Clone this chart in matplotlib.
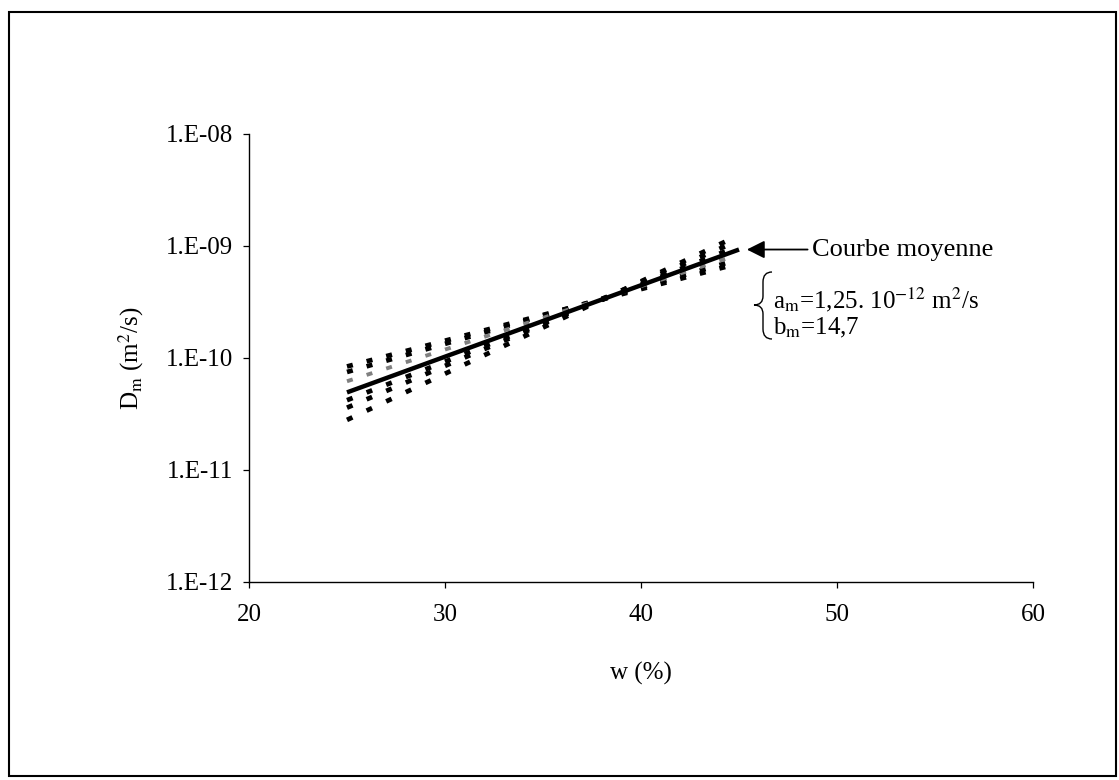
import matplotlib
matplotlib.use("Agg")
import matplotlib.pyplot as plt
import numpy as np
from matplotlib.path import Path
from matplotlib.patches import PathPatch, Rectangle
from matplotlib.transforms import IdentityTransform

plt.rcParams['font.family'] = ['Liberation Serif', 'DejaVu Serif']
plt.rcParams['mathtext.fontset'] = 'stix'
plt.rcParams['lines.scale_dashes'] = False

# data
w_ends = [25, 45]
# individual curves (value at w=25, value at w=45)
curves = [
    [8.4e-11, 7.0e-10],
    [7.5e-11, 7.6e-10],
    [6.2e-11, 8.4e-10],
    [4.2e-11, 1.00e-9],
    [3.6e-11, 1.12e-9],
    [2.8e-11, 1.25e-9],
]
curve_colors = ['black', 'black', '#808080', 'black', 'black', 'black']
mean_curve = [4.93e-11, 9.3e-10]

xticks = [20, 30, 40, 50, 60]
yticks = [1e-12, 1e-11, 1e-10, 1e-9, 1e-8]
ytick_labels = ['1.E-12', '1.E-11', '1.E-10', '1.E-09', '1.E-08']

W, H = 1119, 780
fs = 18
fig = plt.figure(figsize=(W / 100, H / 100), dpi=100)
ax = fig.add_axes([249 / W, 1 - 582 / H, (1033 - 249) / W, (582 - 134) / H])

ax.set_yscale('log')
ax.set_xlim(20, 60)
ax.set_ylim(1e-12, 1e-8)
ax.set_xticks(xticks)
ax.set_xticklabels([str(t) for t in xticks])
ax.set_yticks(yticks)
ax.set_yticklabels(ytick_labels)
ax.minorticks_off()
ax.tick_params(direction='out', length=4.5, width=0.9, labelsize=fs)
ax.tick_params(axis='y', pad=7)
ax.tick_params(axis='x', pad=11)
for s in ['top', 'right']:
    ax.spines[s].set_visible(False)
for s in ['left', 'bottom']:
    ax.spines[s].set_linewidth(1.0)

ax.set_xlabel('w (%)', fontsize=fs, labelpad=26)
ax.set_ylabel(r'D$_\mathrm{m}$ (m$^2$/s)', fontsize=fs, labelpad=14)

# dash period = one unit of w along each curve
fig.canvas.draw()
for vals, col in zip(curves, curve_colors):
    p = ax.transData.transform(np.column_stack([w_ends, vals]))
    length = np.hypot(*(p[1] - p[0]))
    period = length / (w_ends[1] - w_ends[0]) * 72 / fig.dpi
    on = 6 * 72 / fig.dpi
    lw = 3.4 if col == 'black' else 2.8
    ax.plot(w_ends, vals, color=col, lw=lw, solid_capstyle='butt',
            dash_capstyle='butt', linestyle=(0, (on, period - on)))

ax.plot(w_ends, mean_curve, color='black', lw=3.2, solid_capstyle='butt')

ax.annotate('', xy=(45.4, mean_curve[1]), xytext=(48.5, mean_curve[1]),
            arrowprops=dict(arrowstyle='-|>', color='black', lw=1.3,
                            mutation_scale=27, shrinkA=0, shrinkB=0))
ax.text(48.7, mean_curve[1], 'Courbe moyenne', fontsize=19, va='center', ha='left')
ax.text(46.75, 3.3e-10, r'a$_\mathrm{m}$=1,25. 10$^{-12}$ m$^2$/s', fontsize=fs,
        va='center', ha='left')
ax.text(46.75, 1.85e-10, r'b$_\mathrm{m}$=14,7', fontsize=fs, va='center', ha='left')

# curly brace
def px(x, y):
    return (x, H - y)

verts = [px(772, 272), px(763, 272), px(763, 282), px(763, 296), px(763, 305), px(754, 305),
         px(763, 305), px(763, 314), px(763, 329), px(763, 339), px(772, 339)]
codes = [Path.MOVETO, Path.CURVE3, Path.CURVE3, Path.LINETO, Path.CURVE3, Path.CURVE3,
         Path.CURVE3, Path.CURVE3, Path.LINETO, Path.CURVE3, Path.CURVE3]
fig.add_artist(PathPatch(Path(verts, codes), fill=False, lw=1.0, color='black',
                         transform=IdentityTransform()))

# outer frame
fig.add_artist(Rectangle((9 / W, 4 / H), 1107 / W, 764 / H, fill=False,
                         lw=1.5, color='black', transform=fig.transFigure))

fig.savefig('out.png', dpi=100)
